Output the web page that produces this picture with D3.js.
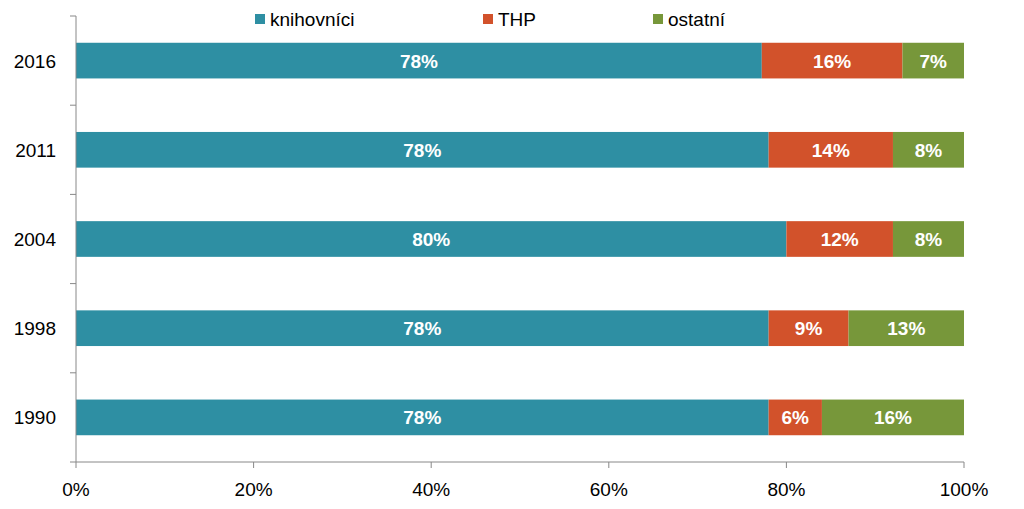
<!DOCTYPE html><html><head><meta charset="utf-8">
<script src="https://cdn.jsdelivr.net/npm/d3@7"></script>
<style>body{margin:0;background:#fff}svg{font-family:"Liberation Sans",Arial,sans-serif}</style>
</head><body><svg id="c" width="1024" height="509"></svg>
<script>
const years=["2016","2011","2004","1998","1990"];
const seriesNames=["knihovníci","THP","ostatní"];
const knihovnici=[78,78,80,78,78];
const thp=[16,14,12,9,6];
const ostatni=[7,8,8,13,16];
const colors=["#2E8FA3","#D2522B","#77973A"];
const xTicks=[0,0.2,0.4,0.6,0.8,1];
const svg=d3.select("#c");
const L=76,R=964,T=16,B=462;
const x=d3.scaleLinear().domain([0,1]).range([L,R]);
const y=d3.scaleBand().domain(years).range([T,B]).paddingInner(0.6).paddingOuter(0.3);
const yb=d3.scaleBand().domain(years).range([T,B]);
const data=years.map((yr,i)=>{const v=[knihovnici[i],thp[i],ostatni[i]];const s=d3.sum(v);let c=0;return {yr,segs:v.map((d,j)=>{const o={j,d,x0:c/s,x1:(c+d)/s};c+=d;return o;})};});
const g=svg.append("g");
data.forEach(r=>{r.segs.forEach(s=>{
 g.append("rect").attr("x",x(s.x0)).attr("y",y(r.yr)).attr("width",x(s.x1)-x(s.x0)).attr("height",y.bandwidth()).attr("fill",colors[s.j]);
 g.append("text").attr("x",(x(s.x0)+x(s.x1))/2).attr("y",y(r.yr)+y.bandwidth()/2+7).attr("text-anchor","middle").attr("fill","#fff").attr("font-weight","bold").attr("font-size",19).text(s.d+"%");
});});
// axes
svg.append("line").attr("x1",L).attr("x2",L).attr("y1",T).attr("y2",B).attr("stroke","#888");
svg.append("line").attr("x1",L).attr("x2",R).attr("y1",B).attr("y2",B).attr("stroke","#888");
d3.range(years.length+1).forEach(i=>{const yy=T+i*yb.step();svg.append("line").attr("x1",L-6).attr("x2",L).attr("y1",yy).attr("y2",yy).attr("stroke","#888");});
years.forEach(yr=>svg.append("text").attr("x",L-20).attr("y",yb(yr)+yb.bandwidth()/2+7).attr("text-anchor","end").attr("font-size",19).attr("fill","#000").text(yr));
xTicks.forEach(t=>{svg.append("line").attr("x1",x(t)).attr("x2",x(t)).attr("y1",B).attr("y2",B+6).attr("stroke","#888");
 svg.append("text").attr("x",x(t)).attr("y",B+34).attr("text-anchor","middle").attr("font-size",19).text(d3.format(".0%")(t));});
// legend
const lx=[255,483,653];
seriesNames.forEach((n,i)=>{svg.append("rect").attr("x",lx[i]).attr("y",14).attr("width",10).attr("height",10).attr("fill",colors[i]);
 svg.append("text").attr("x",lx[i]+15).attr("y",26).attr("font-size",19).text(n);});
</script></body></html>
